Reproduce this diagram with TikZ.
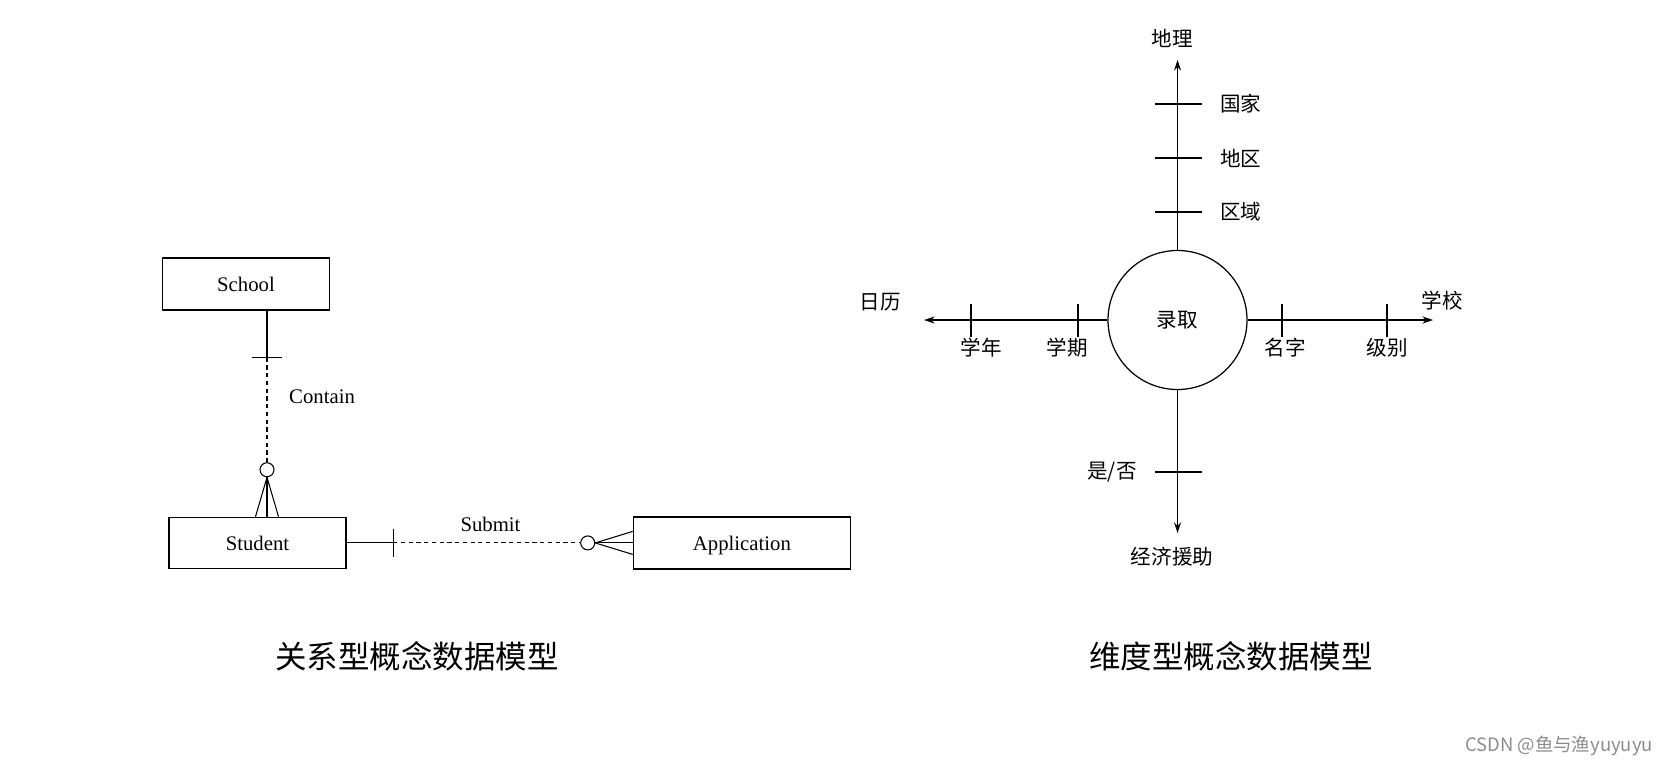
\documentclass[tikz,border=0pt]{standalone}
\usepackage{fontspec}
\setmainfont{Liberation Serif}
\newfontfamily\cjk{Noto Sans CJK SC}
\usetikzlibrary{positioning, calc}
\usetikzlibrary{arrows.meta}

\begin{document}
\begin{tikzpicture}[
    entity/.style={rectangle, draw, line width=0.8pt, minimum height=1.04cm, inner sep=0pt, text height=2.1ex, text depth=0.2ex, font=\fontsize{11.8}{14}\selectfont},
    rel/.style={line width=0.6pt},
    weak/.style={line width=0.6pt, dash pattern=on 2.4pt off 2pt},
    ring/.style={circle, draw, line width=0.6pt, fill=white, minimum size=0.28cm, inner sep=0pt},
    lbl/.style={font=\fontsize{11.8}{14}\selectfont},
    tag/.style={font=\cjk\fontsize{11.7}{14}\selectfont, inner sep=1pt},
    axis/.style={line width=0.6pt, -{Stealth[length=2.1mm, width=1.4mm]}},
    caption/.style={font=\cjk\fontsize{17.9}{20}\selectfont}
]
\useasboundingbox (0,0) rectangle (33.38,-15.32);

% Relational model
\node[entity, minimum width=3.34cm] (school) at (4.92,-5.68) {School};
\node[entity, minimum width=3.54cm, minimum height=1.02cm, below=4.12cm of school, xshift=0.23cm] (student) {Student};
\node[entity, minimum width=4.34cm, right=5.72cm of student] (application) {Application};

\coordinate (cTop) at ([xshift=0.42cm]school.south);
\coordinate (cBot) at (cTop |- student.north);
\coordinate (cTick) at ([yshift=-0.94cm]cTop);
\node[ring] (cRing) at ([yshift=0.94cm]cBot) {};
\draw[rel] (cTop) -- (cTick);
\draw[rel] ([xshift=-0.3cm]cTick) -- ([xshift=0.3cm]cTick);
\draw[weak] (cTick) -- (cRing.north);
\draw[rel] (cRing.south) -- ([xshift=-0.23cm]cBot);
\draw[rel] (cRing.south) -- (cBot);
\draw[rel] (cRing.south) -- ([xshift=0.23cm]cBot);
\node[lbl, anchor=west] (contain) at (5.66,-7.94) {Contain};

\coordinate (sTick) at ([xshift=0.93cm]student.east);
\node[ring] (sRing) at ([xshift=-0.90cm]application.west) {};
\draw[rel] (student.east) -- (sTick);
\draw[rel] ([yshift=0.28cm]sTick) -- ([yshift=-0.28cm]sTick);
\draw[weak] (sTick) -- (sRing.west);
\draw[rel] (sRing.east) -- ([yshift=0.23cm]application.west);
\draw[rel] (sRing.east) -- (application.west);
\draw[rel] (sRing.east) -- ([yshift=-0.23cm]application.west);
\node[lbl] (submit) at (9.81,-10.48) {Submit};

% Dimensional model
\node[circle, draw, line width=0.7pt, minimum size=2.78cm, inner sep=0pt, tag] (hub) at (23.55,-6.40) {录取};
\coordinate (geoEnd) at (23.55,-1.20);
\coordinate (aidEnd) at (23.55,-10.66);
\coordinate (calEnd) at (18.48,-6.40);
\coordinate (schEnd) at (28.66,-6.40);
\draw[axis] (hub.north) -- (geoEnd);
\draw[axis] (hub.south) -- (aidEnd);
\draw[axis] (hub.west) -- (calEnd);
\draw[axis] (hub.east) -- (schEnd);

\node[tag] (geo) at (23.44,-0.76) {地理};
\node[tag] (aid) at (23.44,-11.14) {经济援助};
\node[tag] (cal) at (17.60,-6.04) {日历};
\node[tag] (sch) at (28.84,-6.02) {学校};

\foreach \y/\t [count=\i] in {-2.08/国家, -3.16/地区, -4.24/区域} {
    \draw[rel] (23.10,\y) -- (24.04,\y);
    \node[tag, anchor=west] (geo\i) at (24.36,\y) {\t};
}
\draw[rel] (23.10,-9.44) -- (24.04,-9.44);
\node[tag] (aid1) at (22.24,-9.44) {是/否};

\foreach \x/\lx/\t [count=\i] in {19.42/19.62/学年, 21.56/21.34/学期, 25.64/25.70/名字, 27.74/27.74/级别} {
    \draw[rel] (\x,-6.08) -- (\x,-6.74);
    \node[tag] (lev\i) at (\lx,-6.96) {\t};
}

% Captions
\node[caption] (cap1) at (8.34,-13.12) {关系型概念数据模型};
\node[caption] (cap2) at (24.62,-13.12) {维度型概念数据模型};
\node[font=\cjk\fontsize{10.5}{12}\selectfont, text=black!45] (mark) at (31.18,-14.92) {CSDN @鱼与渔yuyuyu};
\end{tikzpicture}
\end{document}
